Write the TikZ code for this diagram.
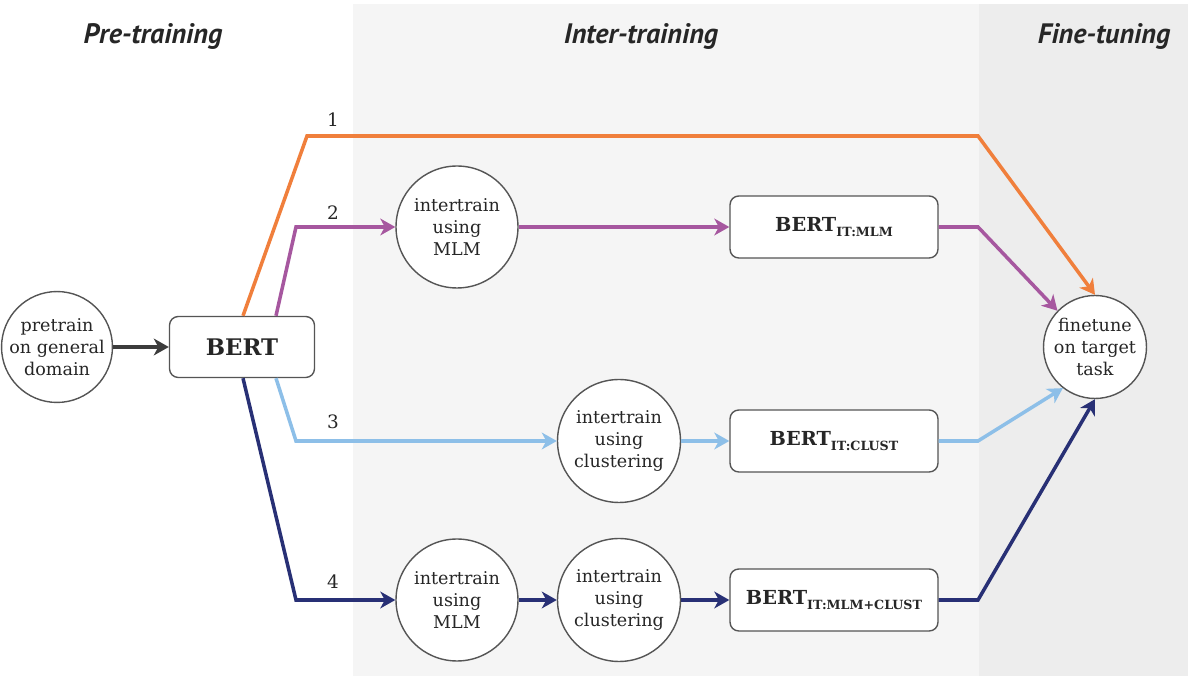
\documentclass[tikz,border=0pt]{standalone}
\usepackage{fontspec}
\usepackage{tikz}
\usetikzlibrary{arrows.meta}
\newfontfamily\headfont{PT Sans}
\newfontfamily\stepfont{DejaVu Serif}
\definecolor{ORANGE}{HTML}{F07F3C}
\definecolor{PURPLE}{HTML}{A6579F}
\definecolor{LIGHTBLUE}{HTML}{8DBFE8}
\definecolor{NAVY}{HTML}{283075}
\definecolor{DARK}{HTML}{3C3C3C}
\definecolor{BORDER}{HTML}{555555}
\definecolor{INTERBG}{HTML}{F5F5F5}
\definecolor{FINEBG}{HTML}{EDEDED}
\newcommand{\bertsub}[1]{{\stepfont\bfseries\fontsize{11}{13}\selectfont BERT}\raisebox{-0.7ex}{\stepfont\bfseries\fontsize{7.2}{8}\selectfont #1}}

\begin{document}
\begin{tikzpicture}[x=0.02cm,y=-0.02cm,>={Stealth[length=8.5pt,width=9.5pt,inset=2.5pt]},line width=2pt]
	\tikzstyle{stage}=[font=\headfont\bfseries\itshape\fontsize{16}{18}\selectfont, text=black!85]
	\tikzstyle{step circle}=[circle, draw=BORDER, line width=0.8pt, fill=white, inner sep=0pt, align=center, font=\stepfont\fontsize{10}{12.5}\selectfont, text=black!85]
	\tikzstyle{model}=[rectangle, rounded corners=5pt, draw=BORDER, line width=0.8pt, fill=white, inner sep=0pt, text=black!85]
	\tikzstyle{num}=[font=\stepfont\fontsize{10.5}{12}\selectfont, text=black!85]
	
	% page and phase bands
	\path[use as bounding box, fill=white] (0,0) rectangle (1188,678);
	\fill[INTERBG] (353,4) rectangle (979,676);
	\fill[FINEBG]  (979,4) rectangle (1188,676);
	
	\node[stage] (pre)   at (153,36)  {Pre-training};
	\node[stage] (inter) at (641,36)  {Inter-training};
	\node[stage] (fine)  at (1104,36) {Fine-tuning};
	
	\node[step circle, minimum size=2.0cm]  (P)    at (57,347)  {pretrain\\on general\\domain};
	\node[model, minimum width=2.9cm, minimum height=1.22cm] (B) at (242,347) {\stepfont\bfseries\fontsize{13}{15}\selectfont BERT};
	\node[step circle, minimum size=2.44cm] (M2)   at (457,227) {intertrain\\using\\MLM};
	\node[model, minimum width=4.16cm, minimum height=1.24cm] (BM)  at (834,227) {\bertsub{IT:MLM}};
	\node[step circle, minimum size=2.46cm] (C3)   at (619,441) {intertrain\\using\\clustering};
	\node[model, minimum width=4.16cm, minimum height=1.24cm] (BC)  at (834,441) {\bertsub{IT:CLUST}};
	\node[step circle, minimum size=2.44cm] (M4)   at (457,600) {intertrain\\using\\MLM};
	\node[step circle, minimum size=2.46cm] (C4)   at (619,600) {intertrain\\using\\clustering};
	\node[model, minimum width=4.16cm, minimum height=1.24cm] (BMC) at (834,600) {\bertsub{IT:MLM+CLUST}};
	\node[step circle, minimum size=2.06cm] (F)    at (1095,347) {finetune\\on target\\task};
	
	% bends of the four routes
	\coordinate (o1) at (307,136);
	\coordinate (o2) at (978,136);
	\coordinate (p1) at (296,227);
	\coordinate (p2) at (978,227);
	\coordinate (b1) at (296,441);
	\coordinate (b2) at (978,441);
	\coordinate (n1) at (296,600);
	\coordinate (n2) at (978,600);
	
	\node[num] (l1) at (333,120) {1};
	\node[num] (l2) at (333,213) {2};
	\node[num] (l3) at (333,422) {3};
	\node[num] (l4) at (333,582) {4};
	
	\draw[->, DARK] (P) -- (B);
	% route 1
	\draw[->, ORANGE] ([xshift=0.02cm]B.north) -- (o1) -- (o2) -- (F.north);
	% route 2
	\draw[->, PURPLE] ([xshift=0.68cm]B.north) -- (p1) -- (M2);
	\draw[->, PURPLE] (M2) -- (BM);
	\draw[->, PURPLE] (BM) -- (p2) -- (F.136);
	% route 3
	\draw[->, LIGHTBLUE] ([xshift=0.68cm]B.south) -- (b1) -- (C3);
	\draw[->, LIGHTBLUE] (C3) -- (BC);
	\draw[->, LIGHTBLUE] (BC) -- (b2) -- (F.-128);
	% route 4
	\draw[->, NAVY] ([xshift=0.02cm]B.south) -- (n1) -- (M4);
	\draw[->, NAVY] (M4) -- (C4);
	\draw[->, NAVY] (C4) -- (BMC);
	\draw[->, NAVY] (BMC) -- (n2) -- (F.south);
\end{tikzpicture}
\end{document}
